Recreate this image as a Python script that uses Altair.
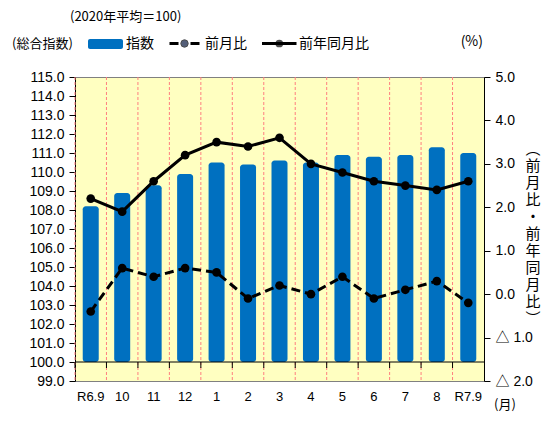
import altair as alt
import pandas as pd

months = ["R6.9", "10", "11", "12", "1", "2", "3", "4", "5", "6", "7", "8", "R7.9"]
index_vals = [108.2, 108.9, 109.3, 109.9, 110.5, 110.4, 110.6, 110.5, 110.9, 110.8, 110.9, 111.3, 111.0]
mom_vals = [-0.4, 0.6, 0.4, 0.6, 0.5, -0.1, 0.2, 0.0, 0.4, -0.1, 0.1, 0.3, -0.2]
yoy_vals = [2.2, 1.9, 2.6, 3.2, 3.5, 3.4, 3.6, 3.0, 2.8, 2.6, 2.5, 2.4, 2.6]
left_ticks = [99 + i for i in range(17)]
right_ticks = [-2, -1, 0, 1, 2, 3, 4, 5]

df = pd.DataFrame({"m": months, "idx": index_vals, "mom": mom_vals, "yoy": yoy_vals})

W, H = 409, 304
NUM = "Liberation Sans, Noto Sans CJK JP"
JP = "Noto Sans CJK JP"
one = alt.Data(values=[{}])

xscale = alt.Scale(paddingInner=0, paddingOuter=0)
xaxis = alt.Axis(labelAngle=0, ticks=False, domain=False, grid=False,
                 bandPosition=0.5, labelFlush=False, labelOverlap=False,
                 labelFont=NUM, labelFontSize=13, labelColor="black",
                 labelPadding=9)

def X(**kw):
    return alt.X("m:N", sort=months, title=None, scale=xscale, axis=xaxis, **kw)

yl_axis = alt.Axis(values=left_ticks, format=".1f", grid=False,
                   labelOverlap=False, labelFlush=False, tickCount=17,
                   domainColor="black", tickColor="black", tickSize=6,
                   labelFont=NUM, labelFontSize=14, labelColor="black",
                   labelPadding=5)
yl = alt.Y("idx:Q", title=None,
           scale=alt.Scale(domain=[99, 115], nice=False, zero=False),
           axis=yl_axis)

bars = alt.Chart(df).mark_bar(size=16, color="#0070C0", cornerRadius=3).encode(
    x=X(), y=yl, y2=alt.datum(100))

grid = alt.Chart(df).mark_rule(color="#FF7F7F", strokeDash=[3, 2], strokeWidth=1).encode(
    x=X(bandPosition=0),
    y=alt.value(0), y2=alt.value(H))

base_line = alt.Chart(one).mark_rule(color="black", strokeWidth=1).encode(
    y=alt.value(H * 15 / 16), x=alt.value(0), x2=alt.value(W))

tick_marks = alt.Chart(df).mark_rule(color="black", strokeWidth=1).encode(
    x=X(bandPosition=0),
    y=alt.value(H * 15 / 16), y2=alt.value(H * 15 / 16 + 6))

left_layer = alt.layer(grid, bars, base_line, tick_marks)

yr_scale = alt.Scale(domain=[-2, 5], nice=False, zero=False)
yr_axis = alt.Axis(orient="right", values=right_ticks, grid=False,
                   labelOverlap=False, labelFlush=False,
                   labelExpr="datum.value < 0 ? '△ ' + format(-datum.value, '.1f') : format(datum.value, '.1f')",
                   domainColor="black", tickColor="black", tickSize=6,
                   labelFont=NUM, labelFontSize=14, labelColor="black", labelPadding=5)

mom_line = alt.Chart(df).mark_line(color="black", strokeWidth=3, strokeDash=[9, 5],
                                   point=alt.OverlayMarkDef(filled=True, color="black", size=75)).encode(
    x=X(),
    y=alt.Y("mom:Q", title=None, scale=yr_scale, axis=yr_axis))

yoy_line = alt.Chart(df).mark_line(color="black", strokeWidth=3,
                                   point=alt.OverlayMarkDef(filled=True, color="black", size=75)).encode(
    x=X(),
    y=alt.Y("yoy:Q", title=None, scale=yr_scale, axis=yr_axis))

right_layer = alt.layer(mom_line, yoy_line)

def txt(s, x, y, size=13, align="left", font=JP, **kw):
    return alt.Chart(one).mark_text(text=s, align=align, baseline="middle", font=font,
                                    fontSize=size, color="black", **kw).encode(
        x=alt.value(x), y=alt.value(y))

legend = [
    txt("(2020年平均＝100)", -5, -60, 13),
    txt("(総合指数)", -63, -33, 13),
    alt.Chart(one).mark_rect(color="#0070C0", cornerRadius=2).encode(
        x=alt.value(13), x2=alt.value(48), y=alt.value(-38), y2=alt.value(-28)),
    txt("指数", 51, -33, 14),
    alt.Chart(one).mark_rule(color="black", strokeWidth=3, strokeDash=[9, 12]).encode(
        x=alt.value(94.5), x2=alt.value(124.5), y=alt.value(-33.5)),
    alt.Chart(one).mark_point(filled=True, color="#0B1B3F", size=55, stroke="black", strokeWidth=1).encode(
        x=alt.value(109.5), y=alt.value(-33.5)),
    txt("前月比", 130, -33, 14),
    alt.Chart(one).mark_rule(color="black", strokeWidth=3).encode(
        x=alt.value(187), x2=alt.value(221.5), y=alt.value(-33.5)),
    alt.Chart(one).mark_point(filled=True, color="black", size=60).encode(
        x=alt.value(204.3), y=alt.value(-33.5)),
    txt("前年同月比", 224, -33, 14),
    txt("(%)", 408, -35, 14, align="right"),
    txt(["︵", "前", "月", "比", "・", "前", "年", "同", "月", "比", "︶"], 458, 72, 15,
        align="center", lineHeight=17),
    txt("(月)", 430, 328, 13, align="center"),
]

chart = alt.layer(left_layer, right_layer, *legend).resolve_scale(y="independent").properties(
    width=W, height=H,
    padding={"left": 67, "top": 69, "right": 63, "bottom": 35},
    autosize=alt.AutoSizeParams(type="none"),
).configure_view(fill="#FFFFC1", stroke="#808080", strokeWidth=1)

chart.save("out.html", embed_options={"renderer": "svg", "actions": False})
